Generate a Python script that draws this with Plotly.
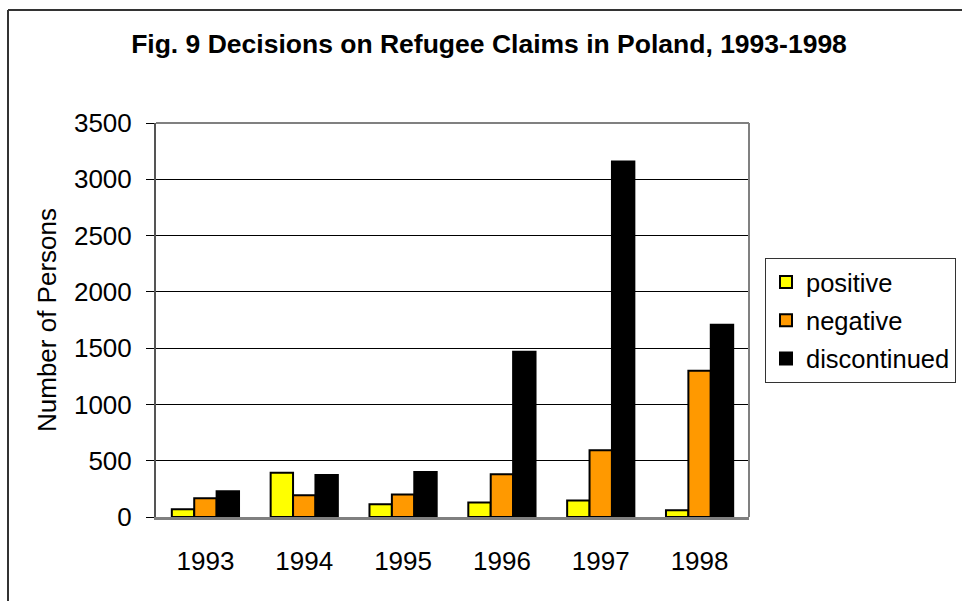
import plotly.graph_objects as go

years = ["1993", "1994", "1995", "1996", "1997", "1998"]
positive = [68, 392, 113, 128, 146, 60]
negative = [166, 193, 199, 380, 593, 1299]
discontinued = [229, 374, 400, 1468, 3158, 1708]

series_names = ["positive", "negative", "discontinued"]
series_colors = ["#FFFF00", "#FF9900", "#000000"]
y_ticks = [0, 500, 1000, 1500, 2000, 2500, 3000, 3500]

FONT = "Liberation Sans, Arial, sans-serif"
FS = 26

W, H = 962, 601
L, R, T, B = 156, 749, 123, 517

fig = go.Figure()
for name, vals, col in zip(series_names, [positive, negative, discontinued], series_colors):
    fig.add_trace(go.Bar(
        x=years, y=vals, name=name, legendgroup=name,
        marker=dict(color=col, line=dict(color="#000000", width=2)),
    ))

fig.update_layout(
    width=W, height=H,
    margin=dict(l=L, r=W - R, t=T, b=H - B, pad=0, autoexpand=False),
    paper_bgcolor="white", plot_bgcolor="white",
    barmode="group", bargap=0.32, bargroupgap=0,
    font=dict(family=FONT, size=FS, color="#000000"),
    title=dict(
        text="<b>Fig. 9 Decisions on Refugee Claims in Poland, 1993-1998</b>",
        x=489 / W, xref="container", xanchor="center",
        y=1 - 44 / H, yref="container", yanchor="middle",
        font=dict(family=FONT, size=26.5, color="#000000"),
    ),
    showlegend=True,
    legend=dict(
        x=(765 - L) / (R - L), xanchor="left",
        y=(B - 258) / (B - T), yanchor="top",
        bgcolor="white", bordercolor="#333333", borderwidth=1,
        font=dict(family=FONT, size=25.5, color="#000000"),
        traceorder="grouped", tracegroupgap=2,
        itemclick=False,
    ),
    xaxis=dict(
        type="category",
        showgrid=False, zeroline=False,
        showline=True, linecolor="#808080", linewidth=3,
        ticks="", ticklabelstandoff=19,
        tickfont=dict(family=FONT, size=FS, color="#000000"),
        fixedrange=True,
    ),
    yaxis=dict(
        range=[0, 3500],
        tickvals=y_ticks,
        ticktext=[str(v) for v in y_ticks],
        showgrid=True, gridcolor="#000000", gridwidth=1,
        zeroline=False,
        showline=True, linecolor="#555555", linewidth=2,
        ticks="outside", ticklen=8, tickcolor="#000000", tickwidth=1,
        ticklabelstandoff=9,
        tickfont=dict(family=FONT, size=FS, color="#000000"),
        title=dict(text="Number of Persons", standoff=10,
                   font=dict(family=FONT, size=FS, color="#000000")),
        fixedrange=True,
    ),
)

# plot border (top and right, grey)
fig.add_shape(type="line", xref="paper", yref="paper", x0=0, x1=1, y0=1, y1=1,
              line=dict(color="#808080", width=2), layer="above")
fig.add_shape(type="line", xref="paper", yref="paper", x0=1, x1=1, y0=0, y1=1,
              line=dict(color="#808080", width=2), layer="above")

# outer chart frame (left and top edges visible)
fx0 = (8 - L) / (R - L)
fy0 = (B - 10) / (B - T)
fig.add_shape(type="line", xref="paper", yref="paper", x0=fx0, x1=fx0, y0=fy0, y1=-1,
              line=dict(color="#333333", width=2))
fig.add_shape(type="line", xref="paper", yref="paper", x0=fx0, x1=3, y0=fy0, y1=fy0,
              line=dict(color="#333333", width=2))

fig.write_html(
    "out.html",
    config={"displayModeBar": False},
    post_script="document.body.style.margin='0';document.body.style.overflow='hidden';",
)
